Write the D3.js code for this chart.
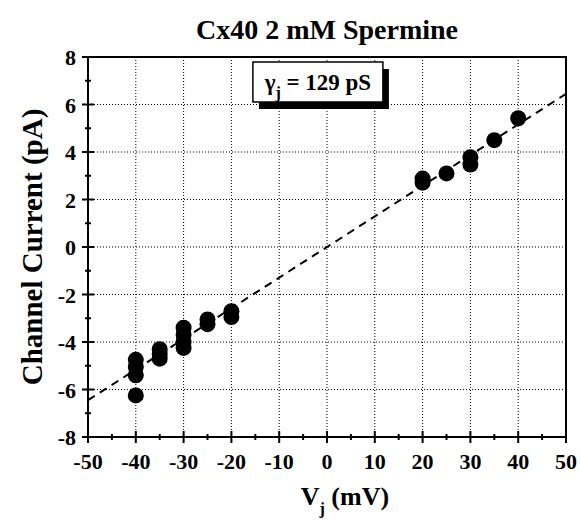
<!DOCTYPE html>
<html>
<head>
<meta charset="utf-8">
<script src="https://cdn.jsdelivr.net/npm/d3@7"></script>
<style>
    body { margin: 0; background: #fff; }
    svg text { font-family: "Liberation Serif", "Times New Roman", serif; font-weight: bold; fill: #000; }
</style>
</head>
<body>
<div id="chart"></div>
<script>
// data
let voltages = [-40, -40, -40, -40, -35, -35, -35, -30, -30, -30, -30, -25, -25, -20, -20,
                20, 20, 25, 30, 30, 35, 40];
let currents = [-4.75, -5.05, -5.4, -6.25, -4.3, -4.5, -4.7, -3.4, -3.7, -4.0, -4.25, -3.05, -3.25, -2.7, -2.95,
                2.88, 2.71, 3.1, 3.78, 3.47, 4.5, 5.42];
let xTicks = [-50, -40, -30, -20, -10, 0, 10, 20, 30, 40, 50];
let yTicks = [-8, -6, -4, -2, 0, 2, 4, 6, 8];
let conductance = 129; // pS -> slope 0.129 pA/mV

let margin = {top: 57, right: 14, bottom: 84, left: 88};
let width = 580 - margin.left - margin.right;
let height = 521 - margin.top - margin.bottom;

let svg = d3.select("#chart").append("svg")
    .attr("width", 580)
    .attr("height", 521)
    .attr("font-family", "Liberation Serif, serif")
    .append("g")
    .attr("transform", `translate(${margin.left}, ${margin.top})`);

let x = d3.scaleLinear().domain([-50, 50]).range([0, width]);
let y = d3.scaleLinear().domain([-8, 8]).range([height, 0]);

// dotted grid
svg.selectAll(".vgrid")
    .data(xTicks.slice(1, -1))
    .enter().append("line")
    .attr("class", "vgrid")
    .attr("x1", d => x(d)).attr("x2", d => x(d))
    .attr("y1", 0).attr("y2", height)
    .attr("stroke", "#000").attr("stroke-width", 1)
    .attr("stroke-dasharray", "1,2");

svg.selectAll(".hgrid")
    .data(yTicks.slice(1, -1))
    .enter().append("line")
    .attr("class", "hgrid")
    .attr("x1", 0).attr("x2", width)
    .attr("y1", d => y(d)).attr("y2", d => y(d))
    .attr("stroke", "#000").attr("stroke-width", 1)
    .attr("stroke-dasharray", "1,2");

// frame
svg.append("rect")
    .attr("width", width).attr("height", height)
    .attr("fill", "none").attr("stroke", "#000").attr("stroke-width", 2);

// axes: major ticks cross the axis, minor ticks smaller
let xMinor = d3.range(-45, 50, 10);
let yMinor = d3.range(-7, 8, 2);

let xAxis = svg.append("g").attr("transform", `translate(0, ${height})`);
xAxis.selectAll(".xmaj").data(xTicks).enter().append("line")
    .attr("x1", d => x(d)).attr("x2", d => x(d))
    .attr("y1", -6).attr("y2", 6)
    .attr("stroke", "#000").attr("stroke-width", 2);
xAxis.selectAll(".xmin").data(xMinor).enter().append("line")
    .attr("x1", d => x(d)).attr("x2", d => x(d))
    .attr("y1", -3).attr("y2", 3)
    .attr("stroke", "#000").attr("stroke-width", 2);
xAxis.selectAll(".xlab").data(xTicks).enter().append("text")
    .attr("x", d => x(d)).attr("y", 32)
    .attr("text-anchor", "middle")
    .style("font-size", "22px")
    .text(d => d);

let yAxis = svg.append("g");
yAxis.selectAll(".ymaj").data(yTicks).enter().append("line")
    .attr("x1", -6).attr("x2", 6)
    .attr("y1", d => y(d)).attr("y2", d => y(d))
    .attr("stroke", "#000").attr("stroke-width", 2);
yAxis.selectAll(".ymin").data(yMinor).enter().append("line")
    .attr("x1", -3).attr("x2", 3)
    .attr("y1", d => y(d)).attr("y2", d => y(d))
    .attr("stroke", "#000").attr("stroke-width", 2);
yAxis.selectAll(".ylab").data(yTicks).enter().append("text")
    .attr("x", -12).attr("y", d => y(d))
    .attr("dy", "0.38em")
    .attr("text-anchor", "end")
    .style("font-size", "22px")
    .text(d => d);

// fit line
svg.append("line")
    .attr("x1", x(-50)).attr("y1", y(-50 * conductance / 1000))
    .attr("x2", x(50)).attr("y2", y(50 * conductance / 1000))
    .attr("stroke", "#000").attr("stroke-width", 2)
    .attr("stroke-dasharray", "8,6");

// points
svg.selectAll(".dot")
    .data(voltages.map((v, i) => ({v: v, c: currents[i]})))
    .enter().append("circle")
    .attr("class", "dot")
    .attr("cx", d => x(d.v))
    .attr("cy", d => y(d.c))
    .attr("r", 8)
    .attr("fill", "#000");

// legend box with shadow
let lg = svg.append("g").attr("transform", `translate(${x(-15.5)}, 5)`);
lg.append("rect")
    .attr("x", 6).attr("y", 7).attr("width", 130).attr("height", 40)
    .attr("fill", "#000");
lg.append("rect")
    .attr("width", 130).attr("height", 40)
    .attr("fill", "#fff").attr("stroke", "#000").attr("stroke-width", 1.5);
let lt = lg.append("text")
    .attr("x", 65).attr("y", 28)
    .attr("text-anchor", "middle")
    .style("font-size", "23px");
lt.append("tspan").text("γ");
lt.append("tspan").attr("dy", 8).style("font-size", "16px").text("j");
lt.append("tspan").attr("dy", -8).text(` = ${conductance} pS`);

// title
svg.append("text")
    .attr("x", width / 2).attr("y", -18)
    .attr("text-anchor", "middle")
    .style("font-size", "28px")
    .text("Cx40 2 mM Spermine");

// axis titles
let xt = svg.append("text")
    .attr("x", x(-5.5)).attr("y", height + 68)
    .attr("text-anchor", "start")
    .style("font-size", "26px");
xt.append("tspan").text("V");
xt.append("tspan").attr("dy", 9).style("font-size", "16px").text("j");
xt.append("tspan").attr("dy", -9).text(" (mV)");

svg.append("text")
    .attr("transform", `translate(-46, ${height / 2}) rotate(-90)`)
    .attr("text-anchor", "middle")
    .style("font-size", "29px")
    .text("Channel Current (pA)");
</script>
</body>
</html>
